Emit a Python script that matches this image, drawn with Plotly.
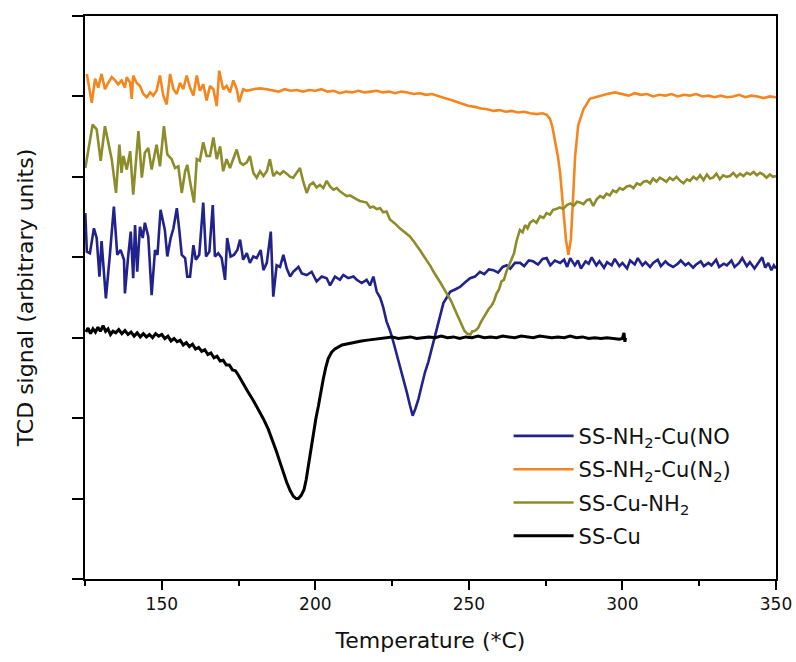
import plotly.graph_objects as go

# ---------------- data (temperature in °C, TCD signal in arbitrary units) ----------------
T_blue = [125.1, 125.6, 126.6, 127.9, 128.8, 129.7, 130.4, 131.8, 133.1, 134.4, 135.5, 136.6, 137.7, 138.0, 139.1,
          139.9, 140.7, 141.3, 142.0, 142.9, 143.8, 144.5, 145.6, 146.7, 147.8, 148.6, 149.6, 151.0, 151.8, 152.9,
          153.8, 154.9, 155.7, 156.5, 157.6, 158.3, 159.2, 160.3, 161.1, 162.2, 163.5, 164.4, 165.5, 166.6, 167.3,
          168.4, 169.5, 170.6, 171.3, 172.4, 173.5, 174.6, 175.5, 176.5, 177.7, 178.7, 179.8, 180.9, 182.2, 183.1,
          184.2, 185.5, 186.3, 187.4, 188.5, 189.6, 190.7, 191.8, 192.8, 194.5, 195.6, 197.2, 198.8, 200.4, 202.1,
          203.7, 204.8, 206.4, 208.0, 209.1, 210.7, 212.4, 213.5, 215.1, 216.7, 217.8, 218.9, 220.0, 221.1, 222.1,
          223.2, 224.3, 225.4, 226.5, 227.6, 228.7, 229.8, 230.8, 231.7, 232.6, 233.6, 234.6, 235.7, 236.8, 237.9,
          239.0, 240.1, 240.9, 241.7, 242.8, 243.9, 245.5, 247.1, 248.8, 250.4, 252.0, 253.6, 255.0, 256.5, 258.0,
          259.5, 261.0, 262.3, 263.5, 265.0, 266.7, 268.0, 269.5, 270.9, 272.5, 274.0, 275.3, 276.5, 278.0, 279.7,
          281.0, 282.0, 283.0, 284.5, 285.5, 286.5, 288.0, 289.0, 290.0, 291.5, 292.5, 294.0, 295.0, 296.5, 297.5,
          299.0, 300.0, 301.5, 302.5, 304.0, 305.0, 306.5, 307.5, 309.0, 310.0, 311.5, 312.5, 314.0, 315.0, 316.5,
          318.0, 319.0, 320.5, 321.5, 323.0, 324.0, 325.5, 326.5, 328.0, 329.0, 330.5, 331.5, 333.0, 334.0, 335.5,
          336.5, 338.0, 339.0, 340.5, 341.5, 343.0, 344.0, 345.5, 346.5, 347.5, 348.5, 349.3, 350.0]
S_blue = [4.55, 4.07, 4.05, 4.36, 4.24, 3.76, 4.20, 3.49, 4.03, 4.63, 4.03, 4.09, 3.97, 3.55, 4.03,
          4.32, 3.74, 4.40, 3.82, 4.38, 4.24, 4.43, 4.26, 3.53, 4.09, 4.03, 4.59, 4.34, 4.01, 4.24,
          4.36, 4.61, 4.34, 4.03, 3.99, 3.76, 3.76, 4.15, 3.97, 4.03, 4.68, 4.01, 4.07, 4.65, 4.01,
          4.05, 3.99, 3.72, 4.24, 4.01, 4.03, 4.09, 4.22, 3.97, 4.05, 3.93, 4.01, 3.99, 4.09, 3.84,
          3.93, 4.32, 3.51, 3.90, 3.88, 4.03, 3.86, 3.76, 3.82, 3.88, 3.80, 3.78, 3.82, 3.70, 3.76,
          3.74, 3.65, 3.76, 3.72, 3.78, 3.74, 3.76, 3.72, 3.68, 3.72, 3.65, 3.76, 3.57, 3.50, 3.38,
          3.20, 3.09, 2.95, 2.80, 2.65, 2.48, 2.32, 2.16, 2.03, 2.12, 2.24, 2.40, 2.57, 2.70, 2.86,
          3.03, 3.20, 3.33, 3.43, 3.50, 3.57, 3.60, 3.63, 3.69, 3.74, 3.76, 3.82, 3.79, 3.85, 3.84,
          3.81, 3.88, 3.90, 3.86, 3.93, 3.93, 3.89, 3.96, 3.95, 3.91, 3.98, 3.99, 3.90, 3.96, 3.93,
          3.97, 3.88, 3.99, 3.90, 3.96, 3.86, 3.95, 3.92, 4.00, 3.90, 3.95, 3.87, 3.94, 3.90, 3.98,
          3.89, 3.93, 3.86, 3.96, 3.91, 3.99, 3.90, 3.94, 3.88, 3.93, 3.97, 3.89, 3.95, 3.91, 3.88,
          3.92, 3.96, 3.90, 3.93, 3.87, 3.91, 3.95, 3.89, 3.93, 3.90, 3.97, 3.88, 3.92, 3.90, 3.96,
          3.88, 3.93, 3.99, 3.89, 3.94, 3.86, 3.92, 4.00, 3.87, 3.93, 3.84, 3.90, 3.86]

T_orange = [125.6, 127.2, 128.3, 129.3, 130.4, 131.5, 132.6, 133.7, 134.8, 135.8, 136.9, 138.0, 138.6, 139.7, 140.2,
            140.7, 141.8, 142.9, 144.0, 145.1, 146.2, 147.2, 148.3, 149.4, 150.5, 151.6, 152.7, 153.8, 154.9, 155.9,
            157.0, 158.1, 159.2, 160.3, 161.4, 162.4, 163.5, 164.6, 165.7, 166.8, 167.9, 168.7, 170.0, 171.1, 172.2,
            173.3, 174.4, 175.2, 176.5, 177.7, 179.8, 182.0, 184.2, 186, 188, 190, 192, 194, 196,
            198, 200, 202, 204, 206, 208, 210, 212, 214, 216, 218, 220, 222, 224, 226,
            228, 230, 232, 234, 236, 238, 240, 242, 244, 246, 248, 250, 252, 254, 256,
            258, 260, 262, 264, 266, 268, 270, 272, 274, 275.4, 276.4, 277.2, 278.0, 279.0, 279.7,
            280.7, 281.6, 282.4, 283.2, 283.8, 284.6, 285.6, 287.3, 289.4, 292.7, 295, 297.6, 300, 302,
            304, 306, 308, 310, 312, 314, 316, 318, 320, 322, 324, 326, 328, 330, 332,
            334, 336, 338, 340, 342, 344, 346, 348, 350]
S_orange = [6.28, 5.92, 6.22, 6.11, 6.28, 6.09, 6.17, 6.24, 6.20, 6.15, 6.20, 6.11, 6.24, 6.17, 5.97,
            6.26, 6.17, 6.13, 6.03, 5.99, 6.05, 6.01, 6.07, 6.26, 6.01, 5.90, 6.28, 6.09, 6.03, 6.17,
            6.09, 6.26, 6.11, 6.01, 6.26, 6.07, 6.15, 5.95, 6.13, 6.09, 5.88, 6.32, 6.09, 6.13, 6.05,
            6.20, 6.09, 5.93, 6.09, 6.07, 6.09, 6.10, 6.09, 6.08, 6.06, 6.09, 6.07, 6.08, 6.06,
            6.08, 6.07, 6.09, 6.06, 6.07, 6.04, 6.06, 6.05, 6.07, 6.05, 6.06, 6.07, 6.05, 6.06, 6.04,
            6.06, 6.05, 6.03, 6.04, 6.02, 6.03, 6.00, 5.98, 5.96, 5.93, 5.91, 5.88, 5.87, 5.85, 5.84,
            5.82, 5.83, 5.81, 5.82, 5.80, 5.81, 5.79, 5.78, 5.79, 5.77, 5.72, 5.62, 5.47, 5.25, 5.05,
            4.64, 4.22, 4.03, 4.22, 4.64, 5.26, 5.64, 5.84, 5.97, 6.01, 6.03, 6.05, 6.03, 6.01,
            6.04, 6.02, 6.03, 6.00, 6.02, 6.01, 6.03, 6.00, 6.02, 6.01, 6.03, 6.00, 6.01, 5.99, 6.01,
            5.99, 6.00, 6.02, 5.99, 6.01, 6.00, 5.98, 6.00, 5.99]

T_olive = [125.1, 127.5, 128.8, 130.1, 131.5, 132.6, 133.7, 135.1, 136.2, 136.9, 137.5, 138.6, 139.7, 140.7, 142.4,
           143.5, 144.5, 145.6, 146.7, 148.3, 149.4, 150.7, 151.8, 153.2, 154.3, 155.4, 156.5, 157.6, 158.3, 159.4,
           160.5, 161.4, 162.4, 163.5, 164.6, 165.7, 166.8, 167.9, 169.0, 170.0, 171.1, 172.2, 173.3, 174.4, 175.5,
           176.5, 177.7, 178.7, 179.8, 180.9, 182.0, 183.1, 184.2, 185.2, 186.3, 187.4, 188.5, 189.6, 190.7, 191.8,
           192.8, 194.0, 195.0, 196.0, 197.2, 198.2, 199.3, 200.4, 201.5, 202.6, 203.7, 204.8, 205.9, 207.0, 208.0,
           209.1, 210.2, 211.3, 212.4, 213.5, 214.5, 215.6, 216.7, 217.8, 218.9, 220.0, 221.1, 222.1, 223.2, 224.3,
           225.4, 226.5, 227.5, 228.6, 229.7, 230.8, 232.0, 233.0, 234.2, 235.4, 236.5, 237.5, 238.5, 239.6, 240.8,
           242.0, 243.1, 244.2, 245.1, 246.0, 246.7, 247.4, 248.0, 248.5, 249.4, 250.5, 251.1, 251.7, 252.4, 253.0,
           254.0, 254.9, 255.7, 256.5, 257.4, 258.2, 259.0, 259.8, 260.6, 261.4, 262.2, 263.0, 263.8, 264.7, 265.5,
           266.6, 267.5, 268.3, 269.1, 269.9, 271.0, 272.0, 273.2, 274.3, 275.3, 276.4, 277.4, 278.5, 279.6, 280.7,
           281.9, 283.0, 284.1, 285.2, 286.2, 287.3, 288.4, 289.4, 290.5, 291.6, 292.7, 293.8, 294.8, 295.9, 296.9,
           298.0, 299.1, 300.2, 301.4, 302.5, 303.6, 304.7, 305.8, 306.9, 307.9, 309.0, 310.0, 311.1, 312.2, 313.2,
           314.3, 315.4, 316.5, 317.6, 318.8, 319.9, 321.0, 322.0, 323.1, 324.2, 325.3, 326.4, 327.5, 328.5, 329.5,
           330.6, 331.7, 332.8, 333.9, 335.0, 336.1, 337.2, 338.3, 339.4, 340.5, 341.6, 342.7, 343.8, 344.8, 345.8,
           346.9, 348.0, 349.0, 350.0]
S_olive = [5.11, 5.65, 5.59, 5.20, 5.63, 5.43, 5.22, 4.80, 5.40, 5.05, 5.26, 5.09, 5.32, 4.78, 5.57,
           4.99, 5.30, 5.36, 5.09, 5.40, 5.13, 5.63, 5.28, 5.22, 5.11, 5.13, 4.80, 5.07, 5.15, 4.90,
           4.68, 5.22, 5.20, 5.43, 5.26, 5.26, 5.49, 5.22, 5.38, 5.07, 5.22, 5.11, 5.22, 5.34, 5.18,
           5.15, 5.18, 5.26, 5.05, 4.99, 5.07, 5.01, 5.07, 5.22, 5.01, 5.06, 5.03, 5.07, 5.04, 5.00,
           4.99, 5.05, 5.11, 4.95, 4.80, 4.90, 4.93, 4.87, 4.90, 4.86, 4.95, 4.88, 4.84, 4.86, 4.82,
           4.79, 4.76, 4.77, 4.74, 4.72, 4.70, 4.69, 4.68, 4.62, 4.63, 4.60, 4.61, 4.56, 4.57, 4.47,
           4.44, 4.40, 4.36, 4.33, 4.29, 4.26, 4.20, 4.15, 4.08, 4.01, 3.95, 3.89, 3.82, 3.76, 3.68,
           3.60, 3.53, 3.46, 3.38, 3.30, 3.24, 3.18, 3.12, 3.09, 3.05, 3.04, 3.08, 3.08, 3.10, 3.12,
           3.20, 3.26, 3.30, 3.36, 3.40, 3.46, 3.55, 3.60, 3.70, 3.72, 3.82, 3.90, 3.97, 4.05, 4.20,
           4.34, 4.31, 4.40, 4.36, 4.43, 4.46, 4.43, 4.51, 4.49, 4.55, 4.53, 4.59, 4.60, 4.62, 4.60,
           4.65, 4.67, 4.64, 4.69, 4.68, 4.66, 4.71, 4.72, 4.64, 4.72, 4.76, 4.74, 4.79, 4.77, 4.83,
           4.81, 4.86, 4.84, 4.88, 4.89, 4.86, 4.92, 4.90, 4.94, 4.95, 4.92, 4.98, 4.94, 4.99, 4.97,
           4.94, 4.99, 4.96, 5.00, 4.95, 4.92, 4.97, 4.95, 5.00, 4.97, 5.02, 4.96, 5.03, 4.98, 4.99,
           5.04, 4.97, 5.02, 5.00, 5.01, 5.05, 5.00, 5.04, 5.01, 5.05, 5.03, 5.06, 5.02, 5.05, 5.03,
           4.99, 5.03, 5.00, 5.01]

T_black = [125.3, 126.0, 126.8, 127.6, 128.4, 129.2, 130.0, 130.9, 131.7, 132.5, 133.3, 134.1, 135.0, 136.0, 137.0,
           138.0, 139.0, 140.0, 141.0, 142.0, 143.0, 144.0, 145.0, 146.0, 147.0, 148.0, 149.0, 150.0, 151.0, 152.0,
           153.0, 154.0, 155.0, 156.0, 157.0, 158.0, 159.0, 160.0, 161.0, 162.0, 163.0, 164.0, 165.0, 166.0, 167.0,
           168.0, 169.0, 170.0, 171.0, 172.0, 173.0, 174.0, 175.0, 176.0, 176.5, 178.0, 179.8, 181.5, 183.1, 184.7,
           186.3, 187.4, 188.5, 189.6, 190.7, 191.8, 192.8, 193.7, 194.5, 195.4, 196.3, 197.0, 197.7, 198.5, 199.3,
           200.2, 201.0, 201.8, 202.6, 203.4, 204.2, 205.3, 206.4, 208.7, 211.3, 213, 215, 217, 219, 221,
           223, 225, 227, 229, 231, 233, 235, 237, 239, 241, 243, 245, 247, 249, 251,
           253, 255, 257, 259, 261, 263, 265, 267, 269, 271, 273, 275, 277, 279, 281,
           283, 285, 287, 289, 291, 293, 295, 297, 299, 300, 300.5, 300.8, 301]
S_black = [3.07, 3.12, 3.05, 3.11, 3.07, 3.13, 3.08, 3.15, 3.08, 3.11, 3.04, 3.08, 3.06, 3.10, 3.05,
           3.09, 3.04, 3.07, 3.02, 3.06, 3.01, 3.05, 3.01, 3.04, 3.00, 3.05, 3.02, 3.04, 2.99, 3.02,
           2.96, 2.99, 2.95, 2.97, 2.91, 2.94, 2.89, 2.92, 2.86, 2.88, 2.83, 2.85, 2.79, 2.81, 2.75,
           2.77, 2.71, 2.72, 2.66, 2.66, 2.60, 2.59, 2.53, 2.46, 2.42, 2.33, 2.22, 2.11, 1.99, 1.86,
           1.70, 1.58, 1.45, 1.32, 1.20, 1.10, 1.03, 1.00, 1.00, 1.04, 1.11, 1.23, 1.40, 1.60, 1.82,
           2.00, 2.15, 2.33, 2.49, 2.63, 2.74, 2.82, 2.86, 2.91, 2.93, 2.95, 2.96, 2.97, 2.98, 2.99,
           3.00, 3.01, 2.99, 3.00, 3.01, 2.99, 3.00, 3.01, 3.00, 3.02, 3.00, 3.01, 2.99, 3.01, 3.00,
           3.02, 3.00, 3.01, 3.00, 3.02, 3.01, 3.00, 3.02, 3.01, 3.00, 3.02, 3.01, 3.00, 3.01, 3.00,
           3.02, 3.00, 3.01, 2.99, 3.00, 2.99, 3.00, 2.99, 2.98, 2.99, 3.06, 2.95, 3.00]

series_names = ["SS-NH<sub>2</sub>-Cu(NO", "SS-NH<sub>2</sub>-Cu(N<sub>2</sub>)",
                "SS-Cu-NH<sub>2</sub>", "SS-Cu"]
series_colors = ["#22228c", "#f5861f", "#8c8c2a", "#000000"]

x_ticks = [150, 200, 250, 300, 350]
y_ticks = [0, 1, 2, 3, 4, 5, 6, 7]

# ---------------- figure ----------------
FONT = "DejaVu Sans, Verdana, sans-serif"
fig = go.Figure()
data = [(T_blue, S_blue), (T_orange, S_orange), (T_olive, S_olive), (T_black, S_black)]
widths = [2.6, 2.6, 2.6, 3.0]
for i, ((tx, sy), name, col, w) in enumerate(zip(data, series_names, series_colors, widths)):
    fig.add_trace(go.Scatter(x=tx, y=sy, mode="lines", name=name, legendgroup=f"g{i}",
                             line=dict(color=col, width=w)))

fig.update_layout(
    width=796, height=662,
    margin=dict(l=85, r=20, t=16, b=83, autoexpand=False),
    paper_bgcolor="white", plot_bgcolor="white",
    font=dict(family=FONT, color="#111111"),
    showlegend=True,
    legend=dict(x=0.613, y=0.29, xanchor="left", yanchor="top",
                font=dict(size=21, family=FONT, color="#111111"),
                bgcolor="rgba(0,0,0,0)", tracegroupgap=3, itemwidth=60),
    xaxis=dict(range=[125, 350], tickvals=x_ticks, ticktext=[str(v) for v in x_ticks],
               automargin=False,
               showgrid=False, zeroline=False, showline=True, linecolor="black", linewidth=2,
               mirror=True, ticks="outside", ticklen=9, tickwidth=2, tickcolor="black",
               minor=dict(tickmode="linear", tick0=125, dtick=25, ticks="outside", ticklen=5,
                          tickwidth=2, tickcolor="black"),
               tickfont=dict(size=17, family=FONT, color="#111111"),
               title=dict(text="Temperature (*C)", font=dict(size=22, family=FONT, color="#111111"),
                          standoff=19)),
    yaxis=dict(range=[0, 7], tickvals=y_ticks, showticklabels=False, automargin=False,
               showgrid=False, zeroline=False, showline=True, linecolor="black", linewidth=2,
               mirror=True, ticks="outside", ticklen=11, tickwidth=2, tickcolor="black",
               title=dict(text="TCD signal (arbitrary units)",
                          font=dict(size=22, family=FONT, color="#111111"), standoff=32)),
)

fig.write_html("out.html")
